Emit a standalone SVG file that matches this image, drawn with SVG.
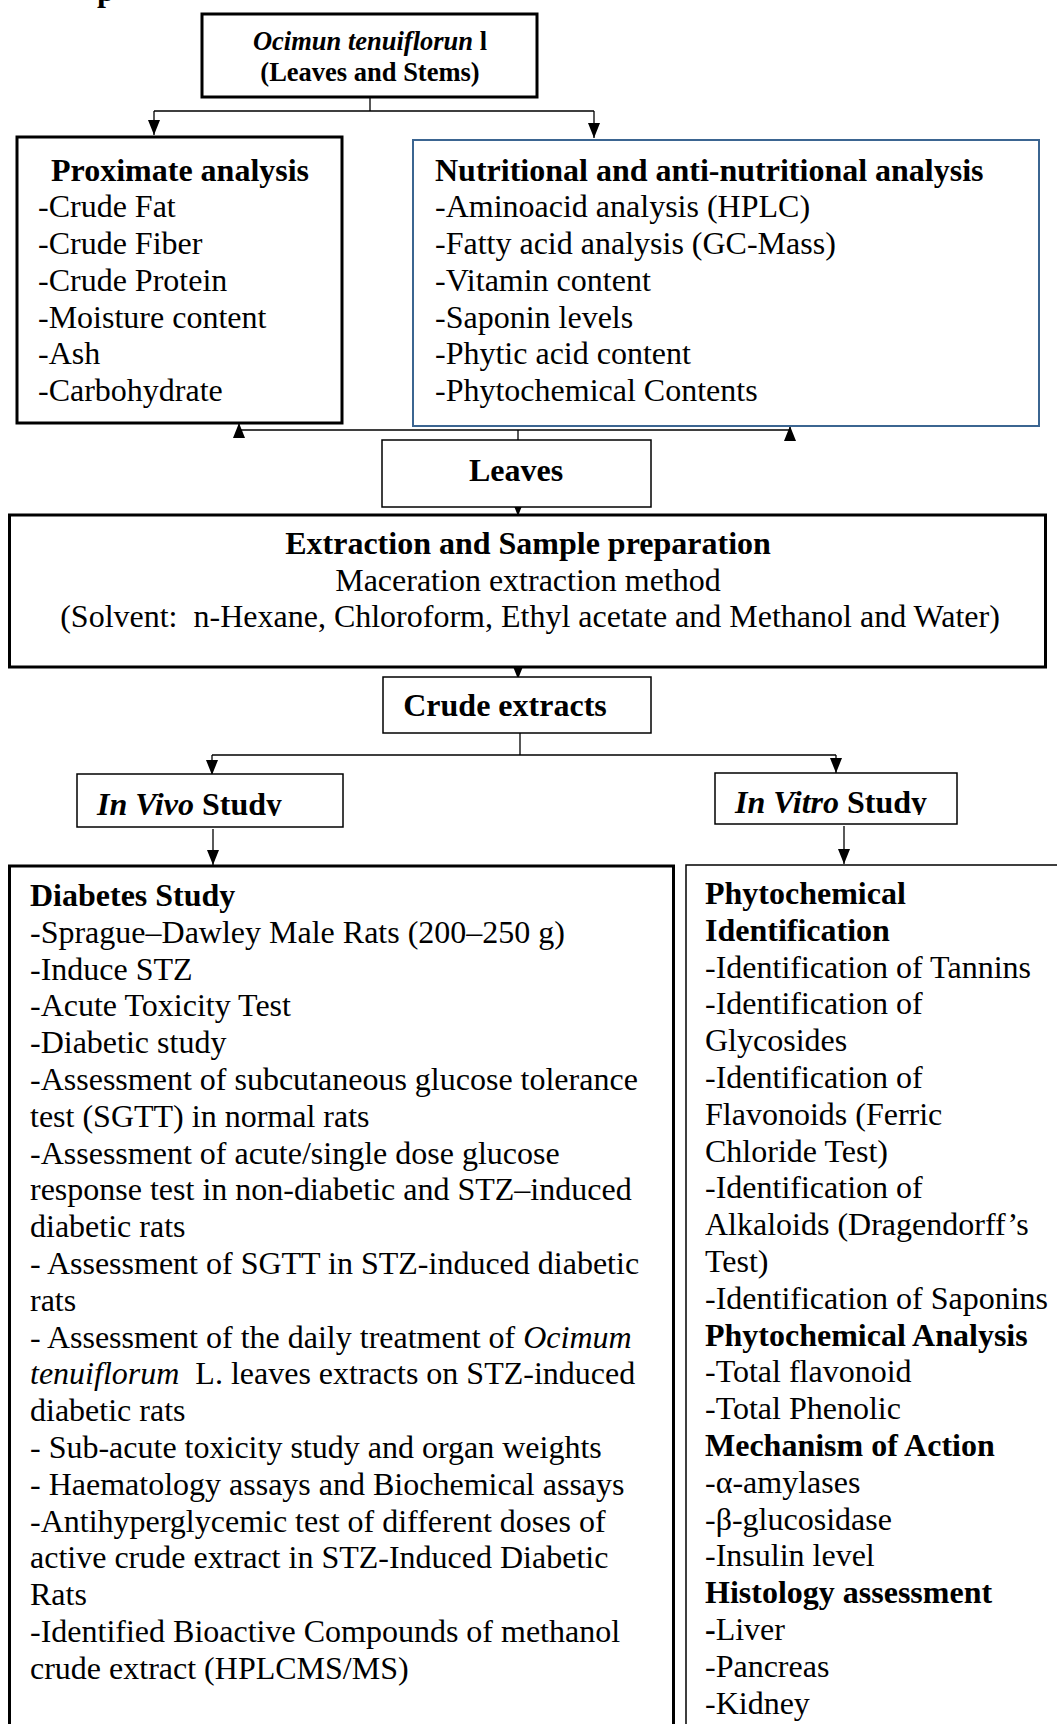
<svg xmlns="http://www.w3.org/2000/svg" width="1057" height="1724" viewBox="0 0 1057 1724">
<style>
text{font-family:"Liberation Serif","Times New Roman",serif;fill:#000;}
.t{font-size:32px;}
.s{font-size:26.5px;font-weight:bold;}
.b{font-weight:bold;}
.i{font-style:italic;}
.thick{fill:#fff;stroke:#000;stroke-width:3;}
.thin{fill:#fff;stroke:#000;stroke-width:1.5;}
.blue{fill:#fff;stroke:#3b6591;stroke-width:2;}
.c{fill:none;stroke:#000;stroke-width:1.3;}
.a{fill:none;stroke:#000;stroke-width:1.3;marker-end:url(#ah);}
</style>
<defs>
<marker id="ah" viewBox="0 0 15 12" refX="15" refY="6" markerWidth="15" markerHeight="12" markerUnits="userSpaceOnUse" orient="auto">
<path d="M0,0 L15,6 L0,12 z" fill="#000"/>
</marker>
<clipPath id="clipVivo"><rect x="77" y="774" width="266" height="42"/></clipPath>
<clipPath id="clipVitro"><rect x="715" y="773" width="242" height="42"/></clipPath>
</defs>
<rect width="1057" height="1724" fill="#fff"/>
<text class="t b" x="97" y="1">p</text>

<g id="connectors">
<path class="c" d="M370,97 V111 M154,111 H594"/>
<path class="a" d="M154,111 V135"/>
<path class="a" d="M594,111 V138"/>
<path class="c" d="M518,440 V430 M239,430 H790"/>
<path class="a" d="M239,430 V423"/>
<path class="a" d="M790,430 V426"/>
<path class="a" d="M518,503 V516"/>
<path class="a" d="M518,664 V679"/>
<path class="c" d="M520,733 V755 M212,755 H836"/>
<path class="a" d="M212,755 V775"/>
<path class="a" d="M836,755 V773"/>
<path class="a" d="M213,829 V865"/>
<path class="a" d="M844,826 V864"/>
</g>

<g id="source">
<rect class="thick" x="202" y="14" width="335" height="83"/>
<text class="s" x="370" y="50" text-anchor="middle"><tspan class="i">Ocimun tenuiflorun</tspan> l</text>
<text class="s" x="370" y="81" text-anchor="middle">(Leaves and Stems)</text>
</g>

<g id="proximate">
<rect class="thick" x="17" y="137" width="325" height="286"/>
<text class="t b" x="51" y="181">Proximate analysis</text>
<text class="t" x="38" y="217">-Crude Fat</text>
<text class="t" x="38" y="254">-Crude Fiber</text>
<text class="t" x="38" y="291">-Crude Protein</text>
<text class="t" x="38" y="328">-Moisture content</text>
<text class="t" x="38" y="364">-Ash</text>
<text class="t" x="38" y="401">-Carbohydrate</text>
</g>

<g id="nutritional">
<rect class="blue" x="413" y="140" width="626" height="286"/>
<text class="t b" x="435" y="181">Nutritional and anti-nutritional analysis</text>
<text class="t" x="435" y="217">-Aminoacid analysis (HPLC)</text>
<text class="t" x="435" y="254">-Fatty acid analysis (GC-Mass)</text>
<text class="t" x="435" y="291">-Vitamin content</text>
<text class="t" x="435" y="328">-Saponin levels</text>
<text class="t" x="435" y="364">-Phytic acid content</text>
<text class="t" x="435" y="401">-Phytochemical Contents</text>
</g>

<g id="leaves">
<rect class="thin" x="382" y="440" width="269" height="67"/>
<text class="t b" x="516" y="481" text-anchor="middle">Leaves</text>
</g>

<g id="extraction">
<rect class="thick" x="9.5" y="515" width="1036" height="152"/>
<text class="t b" x="528" y="554" text-anchor="middle">Extraction and Sample preparation</text>
<text class="t" x="528" y="591" text-anchor="middle">Maceration extraction method</text>
<text class="t" x="530" y="627" text-anchor="middle" xml:space="preserve">(Solvent:  n-Hexane, Chloroform, Ethyl acetate and Methanol and Water)</text>
</g>

<g id="crude">
<rect class="thin" x="383" y="677" width="268" height="56"/>
<text class="t b" x="505" y="716" text-anchor="middle">Crude extracts</text>
</g>

<g id="invivo">
<rect class="thin" x="77" y="774" width="266" height="53"/>
<text class="t b" x="97" y="815" clip-path="url(#clipVivo)"><tspan class="i">In Vivo</tspan> Study</text>
</g>

<g id="invitro">
<rect class="thin" x="715" y="773" width="242" height="51"/>
<text class="t b" x="735" y="813" clip-path="url(#clipVitro)"><tspan class="i">In Vitro</tspan> Study</text>
</g>

<g id="diabetes">
<rect class="thick" x="9.5" y="866" width="664" height="880"/>
<text class="t b" x="30" y="906">Diabetes Study</text>
<text class="t" x="30" y="942.8">-Sprague–Dawley Male Rats (200–250 g)</text>
<text class="t" x="30" y="979.6">-Induce STZ</text>
<text class="t" x="30" y="1016.4">-Acute Toxicity Test</text>
<text class="t" x="30" y="1053.2">-Diabetic study</text>
<text class="t" x="30" y="1090">-Assessment of subcutaneous glucose tolerance</text>
<text class="t" x="30" y="1126.8">test (SGTT) in normal rats</text>
<text class="t" x="30" y="1163.6">-Assessment of acute/single dose glucose</text>
<text class="t" x="30" y="1200.4">response test in non-diabetic and STZ–induced</text>
<text class="t" x="30" y="1237.2">diabetic rats</text>
<text class="t" x="30" y="1274">- Assessment of SGTT in STZ-induced diabetic</text>
<text class="t" x="30" y="1310.8">rats</text>
<text class="t" x="30" y="1347.6">- Assessment of the daily treatment of <tspan class="i">Ocimum</tspan></text>
<text class="t" x="30" y="1384.4" xml:space="preserve"><tspan class="i">tenuiflorum</tspan>  L. leaves extracts on STZ-induced</text>
<text class="t" x="30" y="1421.2">diabetic rats</text>
<text class="t" x="30" y="1458">- Sub-acute toxicity study and organ weights</text>
<text class="t" x="30" y="1494.8">- Haematology assays and Biochemical assays</text>
<text class="t" x="30" y="1531.6">-Antihyperglycemic test of different doses of</text>
<text class="t" x="30" y="1568.4">active crude extract in STZ-Induced Diabetic</text>
<text class="t" x="30" y="1605.2">Rats</text>
<text class="t" x="30" y="1642">-Identified Bioactive Compounds of methanol</text>
<text class="t" x="30" y="1678.8">crude extract (HPLCMS/MS)</text>
</g>

<g id="invitro-tests">
<rect class="thin" x="686" y="865" width="400" height="880"/>
<text class="t b" x="705" y="904">Phytochemical</text>
<text class="t b" x="705" y="940.8">Identification</text>
<text class="t" x="705" y="977.6">-Identification of Tannins</text>
<text class="t" x="705" y="1014.4">-Identification of</text>
<text class="t" x="705" y="1051.2">Glycosides</text>
<text class="t" x="705" y="1088">-Identification of</text>
<text class="t" x="705" y="1124.8">Flavonoids (Ferric</text>
<text class="t" x="705" y="1161.6">Chloride Test)</text>
<text class="t" x="705" y="1198.4">-Identification of</text>
<text class="t" x="705" y="1235.2">Alkaloids (Dragendorff’s</text>
<text class="t" x="705" y="1272">Test)</text>
<text class="t" x="705" y="1308.8">-Identification of Saponins</text>
<text class="t b" x="705" y="1345.6">Phytochemical Analysis</text>
<text class="t" x="705" y="1382.4">-Total flavonoid</text>
<text class="t" x="705" y="1419.2">-Total Phenolic</text>
<text class="t b" x="705" y="1456">Mechanism of Action</text>
<text class="t" x="705" y="1492.8">-α-amylases</text>
<text class="t" x="705" y="1529.6">-β-glucosidase</text>
<text class="t" x="705" y="1566.4">-Insulin level</text>
<text class="t b" x="705" y="1603.2">Histology assessment</text>
<text class="t" x="705" y="1640"><tspan class="b">-</tspan>Liver</text>
<text class="t" x="705" y="1676.8">-Pancreas</text>
<text class="t" x="705" y="1713.6">-Kidney</text>
</g>
</svg>
